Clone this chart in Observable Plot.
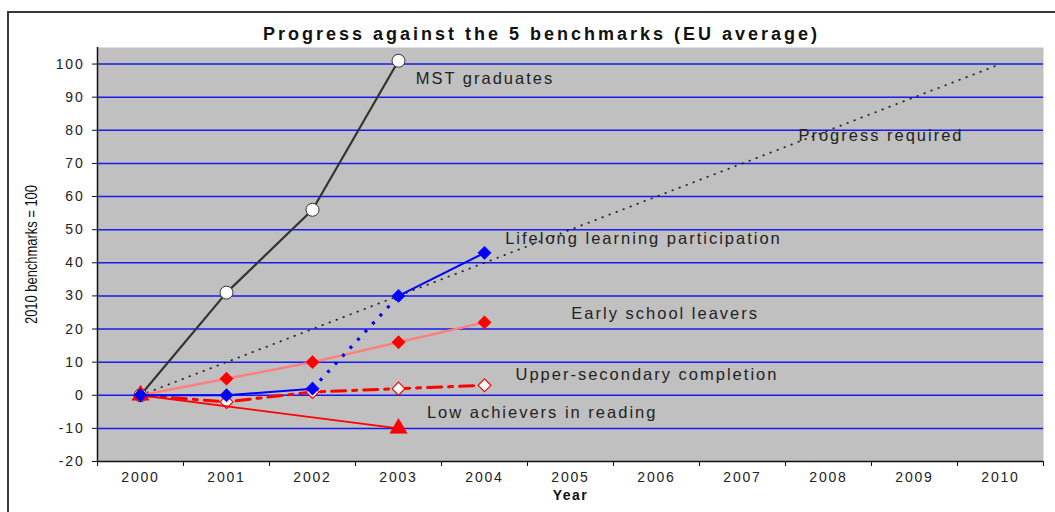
<!DOCTYPE html>
<html>
<head>
<meta charset="utf-8">
<script src="https://cdn.jsdelivr.net/npm/d3@7"></script>
<script src="https://cdn.jsdelivr.net/npm/@observablehq/plot@0.6"></script>
<style>
  html, body { margin: 0; padding: 0; background: #fff; overflow: hidden; }
  #wrap { position: relative; width: 1055px; height: 512px; overflow: hidden; font-family: "Liberation Sans", Arial, sans-serif; }
  #border { position: absolute; left: 7px; top: 11px; width: 1200px; height: 700px; border-left: 2px solid #3a3a3a; border-top: 2px solid #3a3a3a; }
  #chart { position: absolute; left: 0; top: 0; }
  #title { position: absolute; left: 0; top: 24px; width: 1083px; text-align: center; font-weight: bold; font-size: 18px; letter-spacing: 3px; color: #111; z-index: 2; }
</style>
</head>
<body>
<div id="wrap">
  <div id="border"></div>
  <div id="chart"></div>
  <div id="title">Progress against the 5 benchmarks (EU average)</div>
</div>
<script>
// ---- data ----
const years = [2000, 2001, 2002, 2003, 2004, 2005, 2006, 2007, 2008, 2009, 2010];
const yTicks = [-20, -10, 0, 10, 20, 30, 40, 50, 60, 70, 80, 90, 100];
const gridValues = [-10, 0, 10, 20, 30, 40, 50, 60, 70, 80, 90, 100];

const requiredYears = [2000, 2010];
const requiredValues = [0, 100];

const mstYears = [2000, 2001, 2002, 2003];
const mstValues = [0, 31, 56, 101];

const lifelongYears = [2000, 2001, 2002, 2003, 2004];
const lifelongValues = [0, 0, 2, 30, 43];
const lifelongSegmentStyle = ["solid", "solid", "dotted", "solid"];

const earlyYears = [2000, 2001, 2002, 2003, 2004];
const earlyValues = [0, 5, 10, 16, 22];

const upperYears = [2000, 2001, 2002, 2003, 2004];
const upperValues = [0, -2, 1, 2, 3];

const lowYears = [2000, 2003];
const lowValues = [0, -10];

const labelTexts = ["MST graduates", "Progress required", "Lifelong learning participation", "Early school leavers", "Upper-secondary completion", "Low achievers in reading"];
const labelYears = [2003.2, 2007.65, 2004.24, 2005.01, 2004.36, 2003.33];
const labelValues = [95.6, 78.3, 47.3, 24.7, 6.3, -5.4];

const yTitle = "2010 benchmarks = 100";
const xTitle = "Year";

// ---- tables ----
const rows = (xs, vs) => xs.map((x, i) => ({year: x, value: vs[i]}));
const required = rows(requiredYears, requiredValues);
const mst = rows(mstYears, mstValues);
const lifelong = rows(lifelongYears, lifelongValues);
const lifelongSegs = lifelongSegmentStyle.map((s, i) => ({
  x1: lifelongYears[i], y1: lifelongValues[i], x2: lifelongYears[i + 1], y2: lifelongValues[i + 1], s
}));
const early = rows(earlyYears, earlyValues);
const upper = rows(upperYears, upperValues);
const low = rows(lowYears, lowValues);
const labels = labelTexts.map((t, i) => ({text: t, year: labelYears[i], value: labelValues[i]}));
const boundaries = years.map(y => y - 0.5).concat([years[years.length - 1] + 0.5]);
const xDomain = [boundaries[0], boundaries[boundaries.length - 1]];
const yDomain = [yTicks[0], 105];

const chart = Plot.plot({
  width: 1055,
  height: 512,
  marginLeft: 97,
  marginRight: 12,
  marginTop: 47,
  marginBottom: 51,
  x: {domain: xDomain, label: null},
  y: {domain: yDomain, label: null},
  style: {background: "transparent", fontFamily: "'Liberation Sans', Arial, sans-serif", color: "#222"},
  marks: [
    Plot.frame({fill: "#c0c0c0", stroke: null}),
    Plot.ruleY(gridValues, {stroke: "#1a1aee", strokeWidth: 1.5}),
    Plot.ruleX([xDomain[0]], {stroke: "#111", strokeWidth: 1.5}),
    Plot.ruleY([yDomain[0]], {stroke: "#111", strokeWidth: 1.5}),
    Plot.axisY({ticks: yTicks, tickSize: 5, tickPadding: 8, tickFormat: d => String(d), fontSize: 14, stroke: "#111", label: null}),
    Plot.axisX({ticks: years, tickSize: 0, tickPadding: 11, tickFormat: d => String(d), fontSize: 14, label: null}),
    Plot.axisX({ticks: boundaries, tickSize: 5, tickFormat: () => "", stroke: "#111", label: null}),
    // progress required
    Plot.line(required, {x: "year", y: "value", stroke: "#222", strokeWidth: 1.8, strokeDasharray: "0.5,7", strokeLinecap: "round"}),
    // MST graduates
    Plot.line(mst, {x: "year", y: "value", stroke: "#333", strokeWidth: 2.2}),
    Plot.dot(mst, {x: "year", y: "value", r: 6.5, fill: "white", stroke: "#333", strokeWidth: 1}),
    // Early school leavers
    Plot.line(early, {x: "year", y: "value", stroke: "#ff7f7f", strokeWidth: 2.5}),
    Plot.dot(early, {x: "year", y: "value", symbol: "diamond2", r: 6, fill: "#ff0000", stroke: "#ff0000", strokeWidth: 0.5}),
    // Upper-secondary completion
    Plot.line(upper, {x: "year", y: "value", stroke: "#ff0000", strokeWidth: 3, strokeDasharray: "14,7,4,7"}),
    Plot.dot(upper, {x: "year", y: "value", symbol: "diamond2", r: 5.8, fill: "white", stroke: "#ff0000", strokeWidth: 1.2}),
    // Low achievers in reading
    Plot.line(low, {x: "year", y: "value", stroke: "#ff0000", strokeWidth: 1.8}),
    Plot.dot(low, {x: "year", y: "value", symbol: "triangle", r: 6.4, fill: "#ff0000", stroke: "#ff0000", strokeWidth: 0.5}),
    // Lifelong learning
    Plot.link(lifelongSegs.filter(d => d.s === "solid"), {x1: "x1", y1: "y1", x2: "x2", y2: "y2", stroke: "#0000ff", strokeWidth: 2}),
    Plot.link(lifelongSegs.filter(d => d.s === "dotted"), {x1: "x1", y1: "y1", x2: "x2", y2: "y2", stroke: "#0000ff", strokeWidth: 3.2, strokeDasharray: "3,8"}),
    Plot.dot(lifelong, {x: "year", y: "value", symbol: "diamond2", r: 6, fill: "#0000ff", stroke: "#0000ff", strokeWidth: 0.5}),
    // series labels
    Plot.text(labels, {x: "year", y: "value", text: "text", textAnchor: "start", lineAnchor: "middle", fontSize: 16.5, fill: "#222"}),
    // axis titles
    Plot.text([yTitle], {frameAnchor: "left", dx: -66, rotate: -90, textAnchor: "middle", lineAnchor: "middle", fontSize: 16, fill: "#111"}),
    Plot.text([xTitle], {frameAnchor: "bottom", dy: 34, lineAnchor: "middle", fontSize: 14, fontWeight: "bold", fill: "#111"})
  ]
});

document.getElementById("chart").appendChild(chart);
const svg = d3.select(chart);
svg.selectAll("text").each(function() {
  const t = this.textContent;
  const el = d3.select(this);
  if (labelTexts.includes(t)) {
    el.style("letter-spacing", "2px");
  } else if (t === yTitle) {
    el.attr("textLength", 139).attr("lengthAdjust", "spacingAndGlyphs");
  } else if (t === xTitle) {
    el.style("letter-spacing", "1.5px");
  } else {
    el.style("letter-spacing", "1.8px");
  }
});
</script>
</body>
</html>
